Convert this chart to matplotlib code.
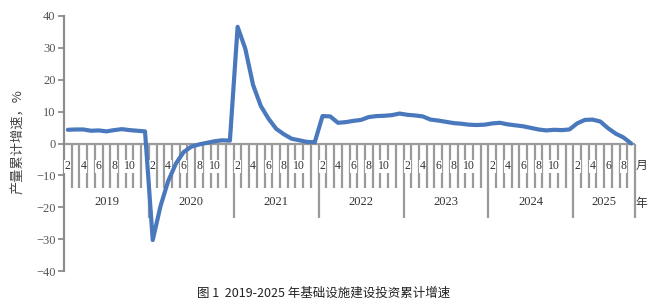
import matplotlib
matplotlib.use("Agg")
import matplotlib.pyplot as plt

years = ["2019", "2020", "2021", "2022", "2023", "2024", "2025"]
months_per_year = [11, 11, 11, 11, 11, 11, 8]   # Jan-Feb .. Jan-Dec (cumulative)
month_labels = ["2", "", "4", "", "6", "", "8", "", "10", "", ""]

v2019 = [4.3, 4.4, 4.4, 4.0, 4.1, 3.8, 4.2, 4.5, 4.2, 4.0, 3.8]
v2020 = [-30.3, -19.7, -11.8, -6.3, -2.7, -1.0, -0.3, 0.2, 0.7, 1.0, 0.9]
v2021 = [36.6, 29.7, 18.4, 11.8, 7.8, 4.6, 2.9, 1.5, 1.0, 0.5, 0.4]
v2022 = [8.6, 8.5, 6.5, 6.7, 7.1, 7.4, 8.3, 8.6, 8.7, 8.9, 9.4]
v2023 = [9.0, 8.8, 8.5, 7.5, 7.2, 6.8, 6.4, 6.2, 5.9, 5.8, 5.9]
v2024 = [6.3, 6.5, 6.0, 5.7, 5.4, 4.9, 4.4, 4.1, 4.3, 4.2, 4.4]
v2025 = [6.3, 7.4, 7.5, 6.9, 4.8, 3.1, 1.9, 0.0]

yticks = [40, 30, 20, 10, 0, -10, -20, -30, -40]

values = v2019 + v2020 + v2021 + v2022 + v2023 + v2024 + v2025
n = len(values)
xs = [i + 0.5 for i in range(n)]

plt.rcParams['font.family'] = ['Liberation Serif', 'Noto Sans CJK SC']
fig = plt.figure(figsize=(6.5, 3.08), dpi=100)
W, H = 650, 308
x0, x1 = 64, 635
y_top, y_bot = 16, 271
ax = fig.add_axes([x0 / W, (H - y_bot) / H, (x1 - x0) / W, (y_bot - y_top) / H])
ax.set_xlim(0, n)
ax.set_ylim(-40, 40)

for s in ["top", "right", "bottom"]:
    ax.spines[s].set_visible(False)
ax.spines["left"].set_color("#8c8c8c")
ax.spines["left"].set_linewidth(1.6)
ax.set_xticks([])
ax.set_yticks(yticks)
ax.set_yticklabels([("\u2212%d" % -t) if t < 0 else str(t) for t in yticks])
ax.tick_params(axis="y", length=4, width=1.3, color="#8c8c8c", labelsize=9,
               labelcolor="#555555", pad=2)

grey = "#9a9a9a"
# zero axis line
ax.plot([0, n], [0, 0], color=grey, lw=1.6, zorder=2, solid_capstyle="butt")

# month boundary ticks and year boundary ticks
pos = 0
boundaries = [0]
for m in months_per_year:
    pos += m
    boundaries.append(pos)
for yi, m in enumerate(months_per_year):
    start = boundaries[yi]
    for j in range(m):
        b = start + j
        if j > 0:
            ax.plot([b, b], [0, -13.9], color=grey, lw=1.6, zorder=1,
                    solid_capstyle="butt", clip_on=False)
        lab = month_labels[j]
        if lab:
            ax.text(b + 0.5, -7.2, lab, ha="center", va="center", fontsize=8.5,
                    color="#333333", zorder=3, clip_on=False,
                    bbox=dict(facecolor="white", edgecolor="none", pad=0.3))
    ax.text(start + m / 2, -18.5, years[yi], ha="center", va="center",
            fontsize=9, color="#333333", clip_on=False)
for b in boundaries[1:]:
    ax.plot([b, b], [0, -23.3], color=grey, lw=1.6, zorder=1,
            solid_capstyle="butt", clip_on=False)

ax.plot(xs, values, color="#4a78bd", lw=3.0, zorder=4,
        solid_joinstyle="round", solid_capstyle="round", clip_on=False)

fig.text(641 / W, 1 - 165 / H, "月", ha="center", va="center", fontsize=8.5,
         color="#333333", family=["Noto Sans CJK SC"])
fig.text(641 / W, 1 - 203 / H, "年", ha="center", va="center", fontsize=8.5,
         color="#333333", family=["Noto Sans CJK SC"])
fig.text(19 / W, 1 - 142 / H, "产量累计增速，%", ha="center", va="center",
         rotation=90, fontsize=9.5, color="#444444",
         family=["Noto Sans CJK SC", "DejaVu Sans"])
fig.text(324 / W, 1 - 293 / H, "图 1  2019-2025 年基础设施建设投资累计增速",
         ha="center", va="center", fontsize=9, color="#222222",
         family=["Noto Sans CJK SC", "DejaVu Sans"])

fig.savefig("out.png", dpi=100)
